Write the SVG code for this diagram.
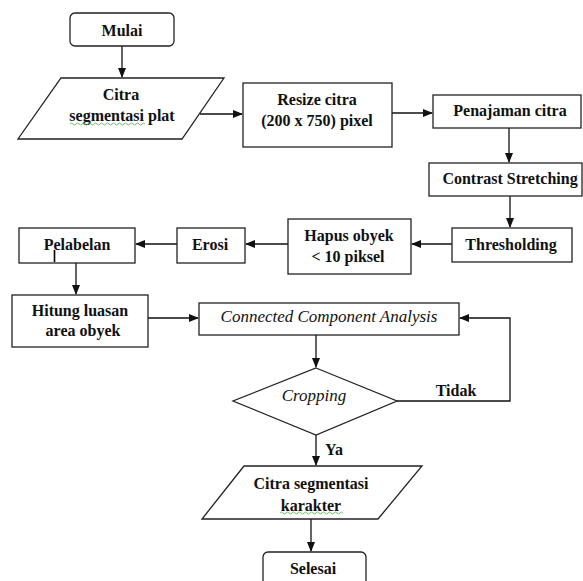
<svg xmlns="http://www.w3.org/2000/svg" width="583" height="581" viewBox="0 0 583 581">
<defs>
<marker id="ah" markerWidth="10" markerHeight="8" refX="9" refY="4" orient="auto" markerUnits="userSpaceOnUse">
<path d="M0,0 L10,4 L0,8 Z" fill="#111"/>
</marker>
<style>
.b{fill:#fff;stroke:#222;stroke-width:1.3}
.t{font-family:"Liberation Serif","Times New Roman",serif;font-size:16px;font-weight:bold;fill:#111;text-anchor:middle}
.i{font-family:"Liberation Serif","Times New Roman",serif;font-size:17px;font-style:italic;fill:#111;text-anchor:middle}
.c{fill:none;stroke:#111;stroke-width:1.3}
.a{marker-end:url(#ah)}
.w{fill:none;stroke:#5cb85c;stroke-width:0.9}
</style>
</defs>
<rect width="583" height="581" fill="#fff"/>
<g id="connectors">
<line class="c a" x1="122" y1="46" x2="122" y2="77"/>
<line class="c a" x1="200" y1="114" x2="242" y2="114"/>
<line class="c a" x1="392" y1="113" x2="432" y2="113"/>
<line class="c a" x1="509" y1="128" x2="509" y2="162"/>
<line class="c a" x1="510" y1="196" x2="510" y2="227"/>
<line class="c a" x1="452" y1="244" x2="412" y2="244"/>
<line class="c a" x1="288" y1="244" x2="246" y2="244"/>
<line class="c a" x1="177" y1="244" x2="136" y2="244"/>
<line class="c a" x1="76" y1="263" x2="76" y2="294"/>
<line class="c a" x1="148" y1="318" x2="198" y2="318"/>
<line class="c a" x1="316" y1="335" x2="316" y2="367"/>
<polyline class="c a" points="397,401 510,401 510,318 460,318"/>
<line class="c a" x1="316" y1="435" x2="316" y2="465"/>
<line class="c a" x1="311" y1="519" x2="311" y2="551"/>
<text class="t" x="456" y="396">Tidak</text>
<text class="t" x="334" y="455">Ya</text>
</g>
<g id="mulai">
<rect class="b" x="70" y="13" width="104" height="33" rx="5"/>
<text class="t" x="122" y="35.5">Mulai</text>
</g>
<g id="citra-plat">
<polygon class="b" points="61,78 224,78 182,139 18,139"/>
<text class="t" x="121" y="100">Citra</text>
<text class="t" x="122" y="121">segmentasi plat</text>
<path class="w" d="M70,124 q1.5,-2 3,0 t3,0 t3,0 t3,0 t3,0 t3,0 t3,0 t3,0 t3,0 t3,0 t3,0 t3,0 t3,0 t3,0 t3,0 t3,0 t3,0 t3,0 t3,0 t3,0 t3,0 t3,0 t3,0 t3,0 t3,0"/>
</g>
<g id="resize">
<rect class="b" x="243" y="83" width="149" height="64"/>
<text class="t" x="317" y="105">Resize citra</text>
<text class="t" x="317" y="126">(200 x 750) pixel</text>
</g>
<g id="penajaman">
<rect class="b" x="433" y="95" width="148" height="33"/>
<text class="t" x="510" y="116">Penajaman citra</text>
</g>
<g id="contrast">
<rect class="b" x="429" y="163" width="153" height="33"/>
<text class="t" x="510" y="184">Contrast Stretching</text>
</g>
<g id="thresholding">
<rect class="b" x="452" y="228" width="120" height="34"/>
<text class="t" x="511" y="250">Thresholding</text>
</g>
<g id="hapus">
<rect class="b" x="288" y="219" width="123" height="55"/>
<text class="t" x="349" y="241">Hapus obyek</text>
<text class="t" x="348" y="262">&lt; 10 piksel</text>
</g>
<g id="erosi">
<rect class="b" x="177" y="228" width="68" height="35"/>
<text class="t" x="210" y="250">Erosi</text>
</g>
<g id="pelabelan">
<rect class="b" x="19" y="228" width="116" height="35"/>
<text class="t" x="77" y="250">Pelabelan</text>
<line x1="54.5" y1="250" x2="54.5" y2="262" stroke="#000" stroke-width="1.6"/>
</g>
<g id="hitung">
<rect class="b" x="12" y="295" width="136" height="52"/>
<text class="t" x="80" y="316">Hitung luasan</text>
<text class="t" x="83" y="336">area obyek</text>
</g>
<g id="cca">
<rect class="b" x="199" y="303" width="260" height="32"/>
<text class="i" x="329" y="322">Connected Component Analysis</text>
</g>
<g id="cropping">
<polygon class="b" points="316,368 397,401 316,435 233,401"/>
<text class="i" x="314" y="401">Cropping</text>
</g>
<g id="citra-karakter">
<polygon class="b" points="244,466 422,466 378,519 202,519"/>
<text class="t" x="311" y="489">Citra segmentasi</text>
<text class="t" x="311" y="511">karakter</text>
<path class="w" d="M280,513 q1.5,-2 3,0 t3,0 t3,0 t3,0 t3,0 t3,0 t3,0 t3,0 t3,0 t3,0 t3,0 t3,0 t3,0 t3,0 t3,0 t3,0 t3,0 t3,0 t3,0 t3,0 t3,0"/>
</g>
<g id="selesai">
<rect class="b" x="263" y="552" width="103" height="40" rx="5"/>
<text class="t" x="313" y="574">Selesai</text>
</g>
</svg>
